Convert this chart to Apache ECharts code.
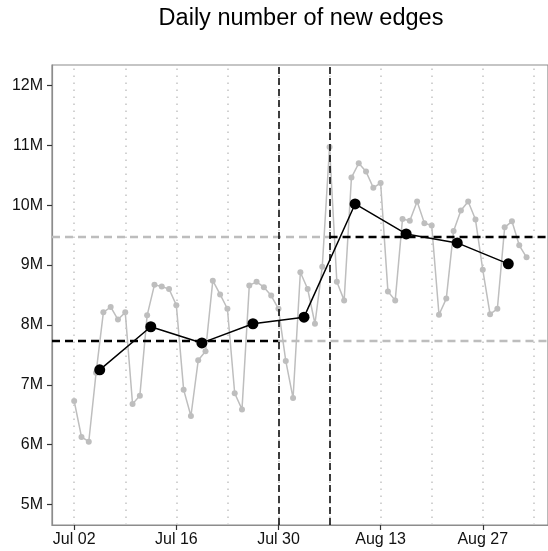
<!DOCTYPE html>
<html>
<head>
<meta charset="utf-8">
<script src="https://cdn.jsdelivr.net/npm/echarts@6/dist/echarts.min.js"></script>
<style>
html,body{margin:0;padding:0;background:#fff;}
#c{width:548px;height:551px;}
</style>
</head>
<body>
<div id="c"></div>
<script>
// Days are counted from Jul 02 (day 0)
const dailyValues = [
  6.73, 6.13, 6.05, 7.20, 8.21, 8.30, 8.09,
  8.21, 6.68, 6.82, 8.16, 8.67, 8.64, 8.60,
  8.33, 6.92, 6.48, 7.41, 7.56, 8.74, 8.51,
  8.27, 6.86, 6.59, 8.66, 8.72, 8.63, 8.49,
  8.27, 7.40, 6.78, 8.88, 8.60, 8.02, 8.97,
  10.97, 8.72, 8.41, 10.46, 10.70, 10.56, 10.29,
  10.37, 8.56, 8.41, 9.77, 9.74, 10.06, 9.70,
  9.66, 8.17, 8.44, 9.57, 9.91, 10.06, 9.76,
  8.92, 8.18, 8.27, 9.63, 9.73, 9.33, 9.13
];
const weeklyDays = [3.5, 10.5, 17.5, 24.5, 31.5, 38.5, 45.5, 52.5, 59.5];
const weeklyValues = [7.25, 7.97, 7.70, 8.02, 8.13, 10.02, 9.52, 9.37, 9.02];
const tickDays = [0, 14, 28, 42, 56];
const tickLabels = ['Jul 02', 'Jul 16', 'Jul 30', 'Aug 13', 'Aug 27'];
const gridDays = [0, 7, 14, 21, 28, 35, 42, 49, 56, 63];
const yTicks = [5, 6, 7, 8, 9, 10, 11, 12];
const breakDays = [28, 35];          // Jul 30, Aug 06
const meanBefore = 7.73;             // mean level before Jul 30
const meanAfter = 9.48;              // mean level after Aug 06

const XMIN = -3.04, XMAX = 64.94;
const YMIN = 4.66, YMAX = 12.34;
const FONT = 'Liberation Sans, Arial, Helvetica, sans-serif';

const chart = echarts.init(document.getElementById('c'), null, {renderer: 'canvas'});

const dailyData = dailyValues.map((v, i) => [i, v]);
const weeklyData = weeklyValues.map((v, i) => [weeklyDays[i], v]);

const tickLabelMap = {};
tickDays.forEach((d, i) => tickLabelMap[d] = tickLabels[i]);

const option = {
  animation: false,
  backgroundColor: '#ffffff',
  graphic: [{
    type: 'text',
    x: 301, y: 19,
    style: {
      text: 'Daily number of new edges',
      font: '23.5px ' + FONT,
      fill: '#000',
      textAlign: 'center',
      textVerticalAlign: 'middle'
    }
  }],
  grid: {
    left: 52, right: -3, top: 65, bottom: 26,
    show: true, borderColor: '#8c8c8c', borderWidth: 1.2,
    backgroundColor: 'transparent'
  },
  xAxis: {
    type: 'value', min: XMIN, max: XMAX,
    axisLine: {show: true, onZero: false, lineStyle: {color: '#8c8c8c', width: 1.2}},
    splitLine: {show: false},
    axisTick: {show: true, inside: false, customValues: tickDays, length: 5, lineStyle: {color: '#333', width: 1.2}},
    axisLabel: {
      customValues: tickDays,
      formatter: v => tickLabelMap[Math.round(v)] || '',
      fontFamily: FONT, fontSize: 16, color: '#111', margin: 7
    }
  },
  yAxis: {
    type: 'value', min: YMIN, max: YMAX,
    axisLine: {show: true, onZero: false, lineStyle: {color: '#8c8c8c', width: 1.2}},
    splitLine: {show: false},
    axisTick: {show: true, inside: false, customValues: yTicks, length: 5, lineStyle: {color: '#333', width: 1.2}},
    axisLabel: {
      customValues: yTicks,
      formatter: v => Math.round(v) + 'M',
      fontFamily: FONT, fontSize: 16, color: '#111', margin: 9
    }
  },
  series: [
    {
      // dotted weekly grid lines
      type: 'line', data: [], z: 1, silent: true,
      markLine: {
        silent: true, symbol: ['none', 'none'], label: {show: false},
        lineStyle: {color: '#c4c4c4', width: 1.5, type: [1.5, 5.5]},
        emphasis: {disabled: true},
        data: gridDays.map(d => ({xAxis: d}))
      }
    },
    {
      name: 'daily', type: 'line', data: dailyData, z: 2,
      symbol: 'circle', symbolSize: 6,
      itemStyle: {color: '#bebebe'},
      lineStyle: {color: '#bebebe', width: 1.5},
      emphasis: {disabled: true}
    },
    {
      // reference dashed lines
      type: 'line', data: [], z: 3, silent: true,
      markLine: {
        silent: true, symbol: ['none', 'none'], label: {show: false},
        emphasis: {disabled: true},
        data: [
          [{coord: [XMIN, meanBefore], lineStyle: {color: '#000', width: 2.4, type: [8, 5]}}, {coord: [breakDays[0], meanBefore]}],
          [{coord: [breakDays[0], meanBefore], lineStyle: {color: '#bdbdbd', width: 2.4, type: [8, 5]}}, {coord: [XMAX, meanBefore]}],
          [{coord: [XMIN, meanAfter], lineStyle: {color: '#bdbdbd', width: 2.4, type: [8, 5]}}, {coord: [breakDays[1], meanAfter]}],
          [{coord: [breakDays[1], meanAfter], lineStyle: {color: '#000', width: 2.4, type: [8, 5]}}, {coord: [XMAX, meanAfter]}],
          [{coord: [breakDays[0], YMIN], lineStyle: {color: '#000', width: 1.5, type: [7, 4]}}, {coord: [breakDays[0], YMAX]}],
          [{coord: [breakDays[1], YMIN], lineStyle: {color: '#000', width: 1.5, type: [7, 4]}}, {coord: [breakDays[1], YMAX]}]
        ]
      }
    },
    {
      name: 'weekly', type: 'line', data: weeklyData, z: 5,
      symbol: 'circle', symbolSize: 11,
      itemStyle: {color: '#000'},
      lineStyle: {color: '#000', width: 1.5},
      emphasis: {disabled: true}
    }
  ]
};
chart.setOption(option);
</script>
</body>
</html>
